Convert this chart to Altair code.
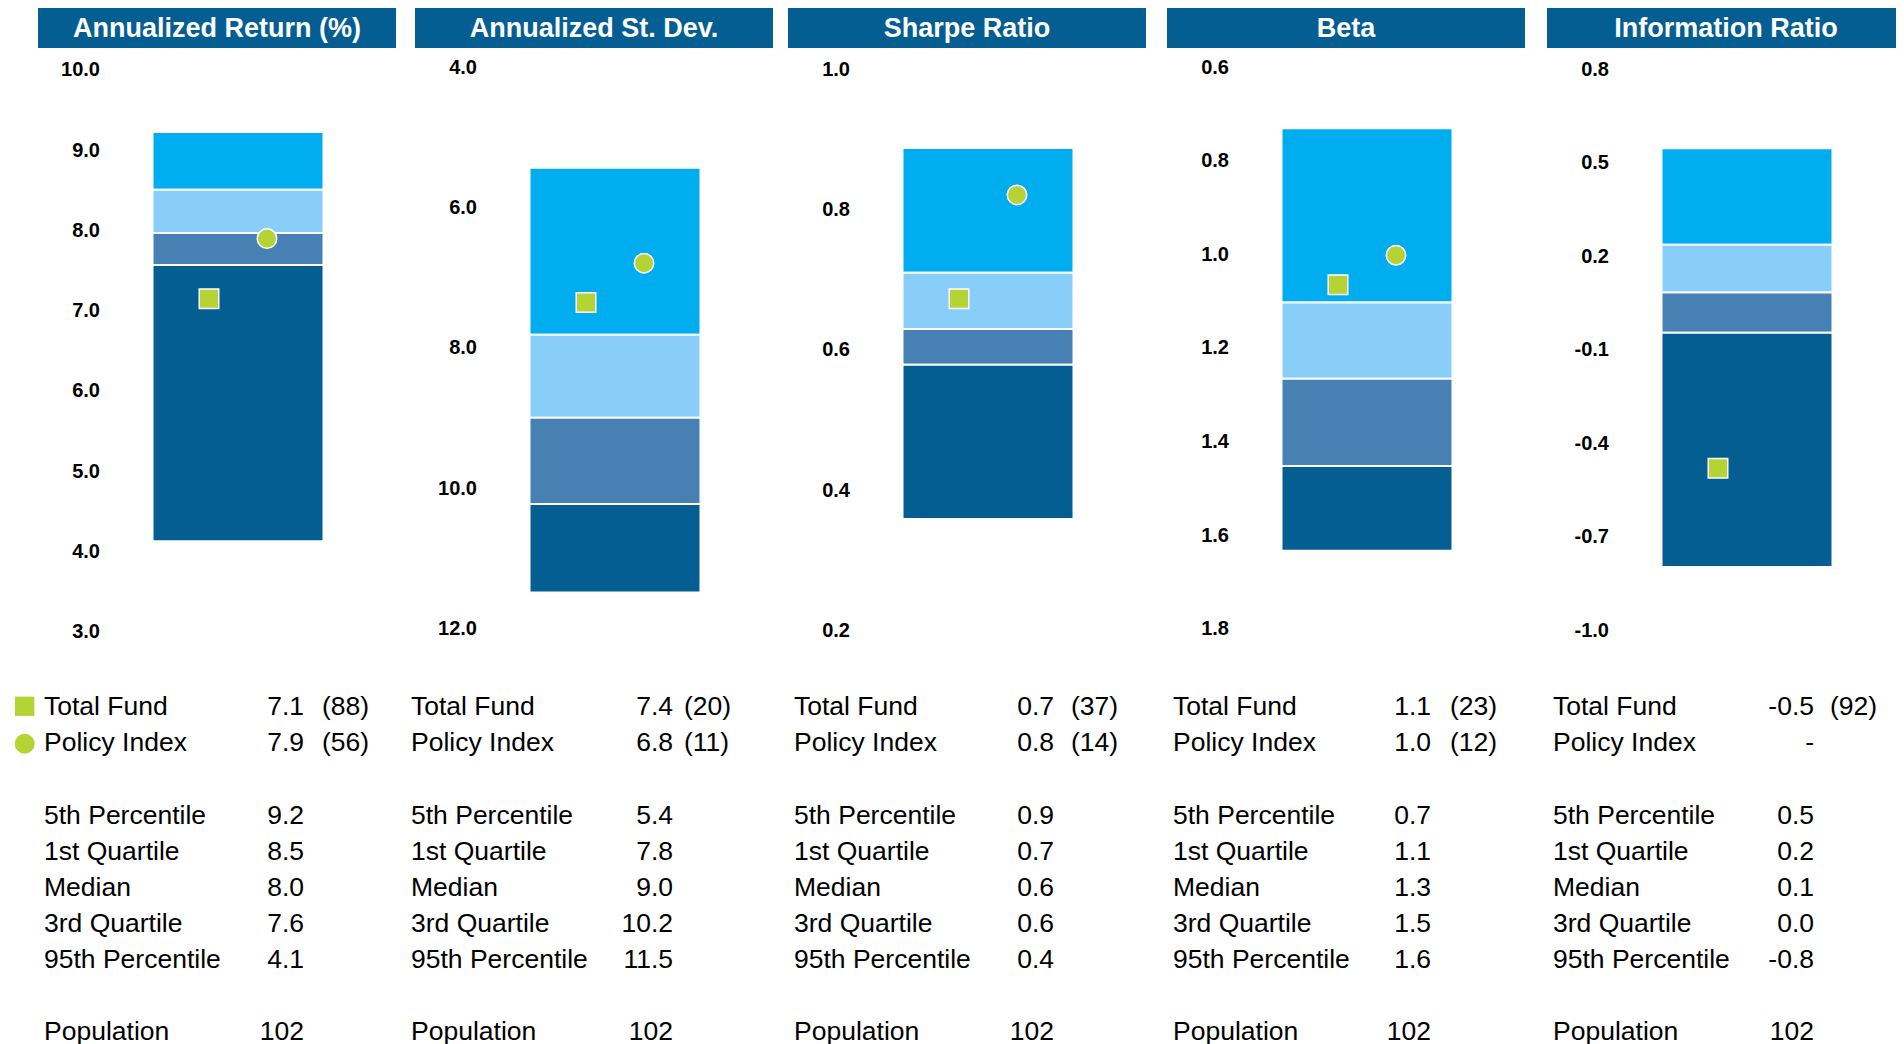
import altair as alt
import pandas as pd

# ---------------- data ----------------
METRICS = ["Annualized Return (%)", "Annualized St. Dev.", "Sharpe Ratio", "Beta", "Information Ratio"]
PCT_05 = [9.22, 5.44, 0.887, 0.732, 0.545]
QUART_1 = [8.50, 7.82, 0.709, 1.104, 0.235]
MEDIAN = [7.96, 9.00, 0.629, 1.267, 0.082]
QUART_3 = [7.56, 10.23, 0.578, 1.453, -0.047]
PCT_95 = [4.12, 11.49, 0.358, 1.634, -0.798]
TOTAL_FUND = [7.14, 7.36, 0.672, 1.066, -0.481]
TOTAL_FUND_RANK = [88, 20, 37, 23, 92]
POLICY_INDEX = [7.89, 6.80, 0.820, 1.003, None]
POLICY_INDEX_RANK = [56, 11, 14, 12, None]
POPULATION = [102, 102, 102, 102, 102]
AXIS_TICKS = [
    [10.0, 9.0, 8.0, 7.0, 6.0, 5.0, 4.0, 3.0],
    [4.0, 6.0, 8.0, 10.0, 12.0],
    [1.0, 0.8, 0.6, 0.4, 0.2],
    [0.6, 0.8, 1.0, 1.2, 1.4, 1.6, 1.8],
    [0.8, 0.5, 0.2, -0.1, -0.4, -0.7, -1.0],
]
SERIES = ["Total Fund", "Policy Index"]
BANDS = ["5th - 25th", "25th - Median", "Median - 75th", "75th - 95th"]
ROW_LABELS = ["Total Fund", "Policy Index", "5th Percentile", "1st Quartile",
              "Median", "3rd Quartile", "95th Percentile", "Population"]

# ---------------- styling / layout ----------------
FONT = "Liberation Sans"
HEADER_BLUE = "#045E91"
BAND_COLORS = ["#00AEEF", "#89CEF9", "#4781B3", "#045E91"]
LIME = "#B5D334"
PLOT_W = 116
PLOT_H = 1000
BAR_W = 171
HEADER_X = -142
HEADER_W = 358
HEADER_H = 40
TICK_LABEL_X = -80
ROW_Y = [699, 735, 807.5, 843.5, 879.5, 915.5, 951.5, 1023.5]
LAYOUT = [
    dict(cell=(-172, 225), y_top=61.3, y_bottom=623.0, label_x=-136, value_x=124, rank_x=142),
    dict(cell=(-152, 223), y_top=58.5, y_bottom=620.4, label_x=-146, value_x=116, rank_x=127),
    dict(cell=(-150, 228), y_top=60.6, y_bottom=622.0, label_x=-136, value_x=124, rank_x=141),
    dict(cell=(-151, 229), y_top=58.5, y_bottom=620.4, label_x=-136, value_x=122, rank_x=141),
    dict(cell=(-151, 207), y_top=60.6, y_bottom=622.0, label_x=-136, value_x=125, rank_x=141),
]


def fmt(v):
    if v is None:
        return "-"
    s = f"{v:.1f}"
    return "0.0" if s == "-0.0" else s


def panel(i):
    lay = LAYOUT[i]
    ticks = AXIS_TICKS[i]
    yscale = alt.Scale(domain=[ticks[0], ticks[-1]], range=[lay["y_top"], lay["y_bottom"]],
                       nice=False, zero=False)
    one = pd.DataFrame({"title": [METRICS[i]]})

    bg = alt.Chart(one).mark_rect(color="white", opacity=0).encode(
        x=alt.value(lay["cell"][0]), x2=alt.value(lay["cell"][1]),
        y=alt.value(0), y2=alt.value(HEADER_H))
    head = alt.Chart(one).mark_rect(color=HEADER_BLUE).encode(
        x=alt.value(HEADER_X), x2=alt.value(min(HEADER_X + HEADER_W, lay["cell"][1])),
        y=alt.value(0), y2=alt.value(HEADER_H))
    head_txt = alt.Chart(one).mark_text(
        font=FONT, fontSize=27, fontWeight="bold", color="white", align="center", baseline="middle"
    ).encode(x=alt.value(HEADER_X + HEADER_W / 2), y=alt.value(HEADER_H / 2 + 0.5), text="title:N")

    lows = [PCT_05[i], QUART_1[i], MEDIAN[i], QUART_3[i]]
    highs = [QUART_1[i], MEDIAN[i], QUART_3[i], PCT_95[i]]
    bands_df = pd.DataFrame({"group": ["Peer Group"] * 4, "band": BANDS, "low": lows, "high": highs})
    xenc = alt.X("group:N", scale=alt.Scale(type="band", paddingInner=0, paddingOuter=0), axis=None)
    bars = alt.Chart(bands_df).mark_bar(size=BAR_W, stroke="white", strokeWidth=2).encode(
        x=xenc,
        y=alt.Y("low:Q", scale=yscale, axis=None),
        y2="high:Q",
        color=alt.Color("band:N", scale=alt.Scale(domain=BANDS, range=BAND_COLORS), legend=None),
    )

    # y-axis tick labels, placed through the panel's y scale
    tick_df = pd.DataFrame({"tick": ticks, "lbl": [fmt(t) for t in ticks]})
    tick_lbls = alt.Chart(tick_df).mark_text(
        font=FONT, fontSize=20, fontWeight="bold", color="black", align="right", baseline="middle", dy=1
    ).encode(x=alt.value(TICK_LABEL_X), y=alt.Y("tick:Q", scale=yscale, axis=None), text="lbl:N")

    pts_rows = []
    if TOTAL_FUND[i] is not None:
        pts_rows.append({"group": "Peer Group", "series": "Total Fund", "value": TOTAL_FUND[i]})
    if POLICY_INDEX[i] is not None:
        pts_rows.append({"group": "Peer Group", "series": "Policy Index", "value": POLICY_INDEX[i]})
    pts = alt.Chart(pd.DataFrame(pts_rows)).mark_point(
        filled=True, opacity=1, size=380, stroke="white", strokeWidth=1.5
    ).encode(
        x=xenc,
        xOffset=alt.XOffset("series:N", scale=alt.Scale(type="band", domain=SERIES,
                                                        paddingInner=0, paddingOuter=0)),
        y=alt.Y("value:Q", scale=yscale, axis=None),
        shape=alt.Shape("series:N", scale=alt.Scale(domain=SERIES, range=["square", "circle"]), legend=None),
        color=alt.value(LIME),
    )

    values = [fmt(TOTAL_FUND[i]), fmt(POLICY_INDEX[i]), fmt(PCT_05[i]), fmt(QUART_1[i]),
              fmt(MEDIAN[i]), fmt(QUART_3[i]), fmt(PCT_95[i]), str(POPULATION[i])]
    ranks = [f"({TOTAL_FUND_RANK[i]})" if TOTAL_FUND_RANK[i] is not None else "",
             f"({POLICY_INDEX_RANK[i]})" if POLICY_INDEX_RANK[i] is not None else "",
             "", "", "", "", "", ""]
    tab = pd.DataFrame({"label": ROW_LABELS, "val": values, "rank": ranks, "ypx": ROW_Y})
    txt = dict(font=FONT, fontSize=26.5, color="black", baseline="middle")
    lab = alt.Chart(tab).mark_text(align="left", **txt).encode(
        x=alt.value(lay["label_x"]), y=alt.Y("ypx:Q", scale=None), text="label:N")
    val = alt.Chart(tab).mark_text(align="right", **txt).encode(
        x=alt.value(lay["value_x"]), y=alt.Y("ypx:Q", scale=None), text="val:N")
    rnk = alt.Chart(tab[tab["rank"] != ""]).mark_text(align="left", **txt).encode(
        x=alt.value(lay["rank_x"]), y=alt.Y("ypx:Q", scale=None), text="rank:N")

    layers = [bg, head, head_txt, alt.layer(bars, pts, tick_lbls), lab, val, rnk]
    if i == 0:
        leg = pd.DataFrame({"series": SERIES, "ypx": [698.3, 735.7]})
        sq = alt.Chart(leg[leg["series"] == "Total Fund"]).mark_point(
            shape="square", filled=True, opacity=1, size=372, color=LIME).encode(
            x=alt.value(-155.3), y=alt.Y("ypx:Q", scale=None))
        ci = alt.Chart(leg[leg["series"] == "Policy Index"]).mark_point(
            shape="circle", filled=True, opacity=1, size=400, color=LIME).encode(
            x=alt.value(-155.3), y=alt.Y("ypx:Q", scale=None))
        layers += [sq, ci]
    return alt.layer(*layers).properties(width=PLOT_W, height=PLOT_H)


chart = alt.hconcat(*[panel(i) for i in range(5)], spacing=0).properties(
    padding=0, background="white"
).configure_view(strokeWidth=0)

chart.save("out.html", embed_options={"renderer": "svg", "actions": False})
